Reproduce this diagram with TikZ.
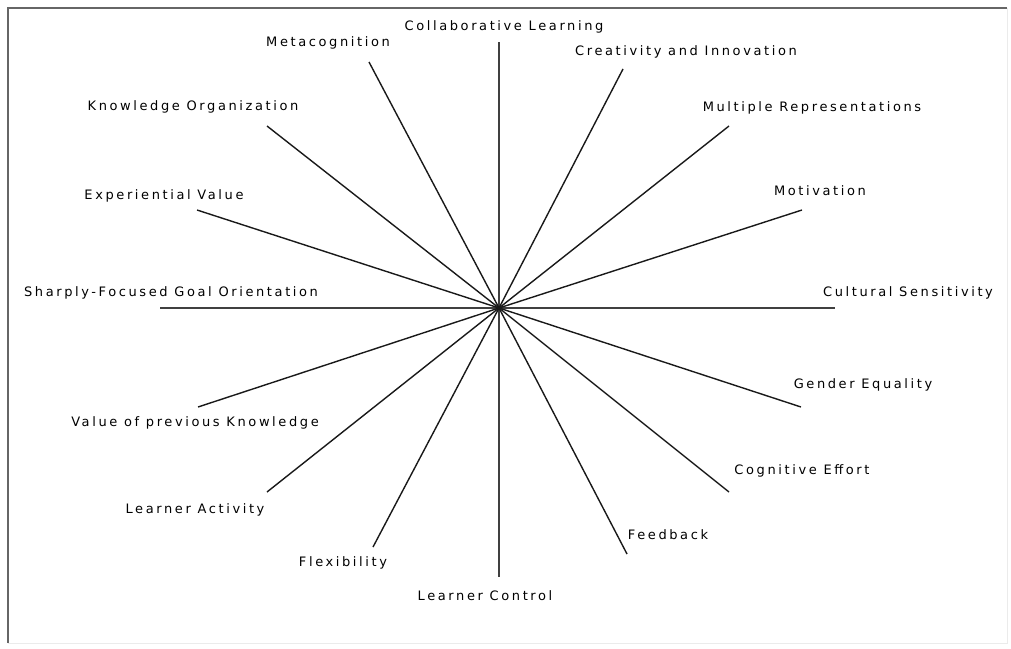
\documentclass[tikz,border=0pt]{standalone}
\usepackage{fontspec}
\newfontfamily\lblfont[LetterSpace=20]{DejaVu Sans}
\tikzset{
  spoke/.style={line width=1.4pt, black!90},
  axisline/.style={line width=1.9pt, black!75},
  frameline/.style={line width=1.5pt, black!60},
  faintframe/.style={line width=1pt, black!8},
  lbl/.style={font=\lblfont\fontsize{13}{15}\selectfont, text=black, inner sep=0pt,
              text height=9.5pt, text depth=2.7pt, anchor=center},
}
\begin{document}
\begin{tikzpicture}[x=1pt,y=-1pt]
\useasboundingbox (0,0) rectangle (1011,648);
% frame
\draw[frameline] (8,643) -- (8,8) -- (1007,8);
\draw[faintframe] (1007,8) -- (1007,643) -- (8,643);
% centre and free ends
\coordinate (c) at (499,308);
\coordinate (top) at (499,42);
\coordinate (bottom) at (499,577);
\coordinate (left) at (160,308);
\coordinate (right) at (835,308);
\coordinate (meta) at (369,62);
\coordinate (know) at (267,126);
\coordinate (expe) at (197,210);
\coordinate (crea) at (623,69);
\coordinate (mult) at (729,126);
\coordinate (moti) at (802,210);
\coordinate (prev) at (198,407);
\coordinate (acti) at (267,492);
\coordinate (flex) at (373,547);
\coordinate (gend) at (801,407);
\coordinate (cogn) at (729,492);
\coordinate (feed) at (627,554);
% axes
\draw[axisline] (top) -- (bottom);
\draw[axisline] (left) -- (right);
% spokes
\foreach \e in {meta,know,expe,crea,mult,moti,prev,acti,flex,gend,cogn,feed}
  \draw[spoke] (c) -- (\e);
% labels
\node[lbl] (lcollab) at (504,27) {Collaborative Learning};
\node[lbl] (lmeta) at (328,43) {Metacognition};
\node[lbl] (lknow) at (193,107) {Knowledge Organization};
\node[lbl] (lexpe) at (164,196) {Experiential Value};
\node[lbl] (lgoal) at (171,293) {Sharply-Focused Goal Orientation};
\node[lbl] (lcrea) at (686,52) {Creativity and Innovation};
\node[lbl] (lmult) at (812,108) {Multiple Representations};
\node[lbl] (lmoti) at (820,192) {Motivation};
\node[lbl] (lcult) at (908,293) {Cultural Sensitivity};
\node[lbl] (lprev) at (195,423) {Value of previous Knowledge};
\node[lbl] (lacti) at (195,510) {Learner Activity};
\node[lbl] (lflex) at (343,563) {Flexibility};
\node[lbl] (lcont) at (485,597) {Learner Control};
\node[lbl] (lgend) at (863,385) {Gender Equality};
\node[lbl] (lcogn) at (802,471) {Cognitive Effort};
\node[lbl] (lfeed) at (668,536) {Feedback};
\end{tikzpicture}
\end{document}
